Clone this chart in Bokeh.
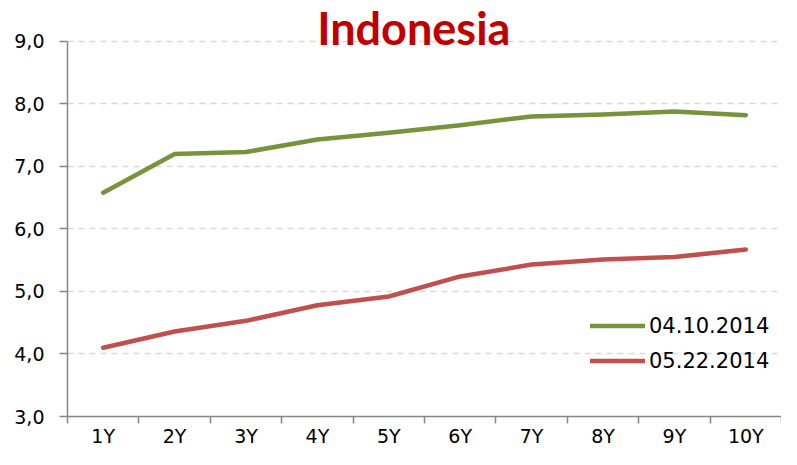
from bokeh.plotting import figure
from bokeh.models import FixedTicker, Range1d, Label, Legend, LegendItem
from bokeh.embed import file_html
from bokeh.resources import INLINE

# ---- data ----
tenors = ["1Y", "2Y", "3Y", "4Y", "5Y", "6Y", "7Y", "8Y", "9Y", "10Y"]
series_a_name = "04.10.2014"
series_a = [6.58, 7.20, 7.23, 7.43, 7.54, 7.66, 7.80, 7.83, 7.88, 7.82]
series_b_name = "05.22.2014"
series_b = [4.10, 4.36, 4.53, 4.78, 4.92, 5.24, 5.43, 5.51, 5.55, 5.67]
y_ticks = [3, 4, 5, 6, 7, 8, 9]
y_tick_labels = ["3,0", "4,0", "5,0", "6,0", "7,0", "8,0", "9,0"]
title_text = "Indonesia"

GREEN = "#77933C"
RED = "#C0504D"
AXIS = "#868686"
FONT = "DejaVu Sans"

x = list(range(1, len(tenors) + 1))

p = figure(width=781, height=449, output_backend="svg", toolbar_location=None,
           x_range=Range1d(0.5, len(tenors) + 0.5), y_range=Range1d(3, 9.574),
           min_border_left=67, min_border_right=0, min_border_top=5,
           min_border_bottom=32)
p.outline_line_color = None
p.background_fill_color = "white"
p.border_fill_color = "white"

# grid
p.xgrid.visible = False
p.ygrid.grid_line_color = "#D9D9D9"
p.ygrid.grid_line_dash = "6 5"
p.ygrid.grid_line_width = 1.5

# x axis
xa = p.xaxis[0]
xa.ticker = FixedTicker(ticks=x, minor_ticks=[i + 0.5 for i in range(len(tenors) + 1)])
xa.major_label_overrides = {i: t for i, t in zip(x, tenors)}
xa.major_tick_out = 0
xa.major_tick_in = 0
xa.minor_tick_out = 7
xa.minor_tick_in = 0
xa.minor_tick_line_color = AXIS
xa.minor_tick_line_width = 1.5
xa.axis_line_color = AXIS
xa.axis_line_width = 1.5
xa.major_label_text_font = FONT
xa.major_label_text_font_size = "19px"
xa.major_label_text_color = "#000000"
xa.major_label_standoff = 1

# y axis
ya = p.yaxis[0]
ya.ticker = FixedTicker(ticks=y_ticks, minor_ticks=[])
ya.bounds = (3, 9)
ya.major_label_overrides = {v: s for v, s in zip(y_ticks, y_tick_labels)}
ya.major_tick_out = 8
ya.major_tick_in = 0
ya.major_tick_line_color = AXIS
ya.major_tick_line_width = 1.5
ya.axis_line_color = AXIS
ya.axis_line_width = 1.5
ya.major_label_text_font = FONT
ya.major_label_text_font_size = "19px"
ya.major_label_text_color = "#000000"
ya.major_label_standoff = 15

ra = p.line(x, series_a, line_color=GREEN, line_width=4.5, line_cap="round", line_join="round")
rb = p.line(x, series_b, line_color=RED, line_width=4.5, line_cap="round", line_join="round")

legend = Legend(items=[LegendItem(label=series_a_name, renderers=[ra]),
                       LegendItem(label=series_b_name, renderers=[rb])],
                location=(523, 38), orientation="vertical")
legend.padding = 0
legend.margin = 0
legend.spacing = 0
legend.glyph_width = 55
legend.glyph_height = 35
legend.label_height = 35
legend.label_standoff = 4
legend.label_text_font = FONT
legend.label_text_font_size = "21px"
legend.label_text_color = "#000000"
legend.border_line_color = None
legend.background_fill_alpha = 0
p.add_layout(legend)

title = Label(x=5.35, y=9.21, text=title_text, text_align="center",
              text_baseline="alphabetic", text_font="Lato", text_font_style="bold",
              text_font_size="45px", text_color="#C00000")
p.add_layout(title)

open("out.html", "w").write(file_html(p, INLINE))
